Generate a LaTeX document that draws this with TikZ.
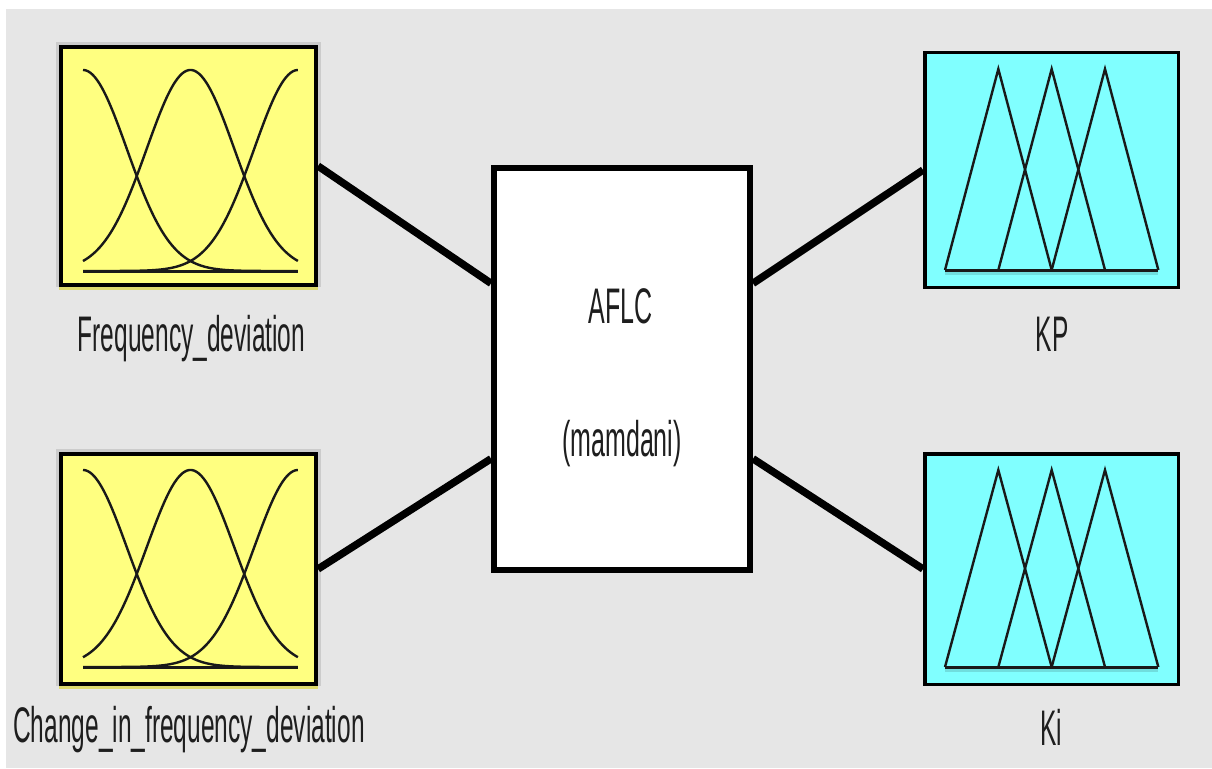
\documentclass[tikz,border=0pt]{standalone}
\usepackage{fontspec}
\setmainfont{Liberation Sans}
\usetikzlibrary{calc}

\definecolor{panel}{HTML}{E6E6E6}
\definecolor{ringgray}{HTML}{CCCCCC}
\definecolor{mfyellow}{HTML}{FFFF80}
\definecolor{mfyelshade}{HTML}{DEDA6E}
\definecolor{mfcyan}{HTML}{80FFFF}
\definecolor{mfcyanshade}{HTML}{70DEDE}
\definecolor{labelgray}{HTML}{1E1E1E}

\pgfdeclarelayer{bottom}
\pgfdeclarelayer{background}
\pgfsetlayers{bottom,background,main}

\tikzset{
  inbox/.style={draw=black, line width=4pt, fill=mfyellow, inner sep=0pt,
                minimum width=255pt},
  outbox/.style={draw=black, line width=3.5pt, fill=mfcyan, inner sep=0pt,
                 minimum width=253.5pt},
  fisbox/.style={draw=black, line width=6pt, fill=white, inner sep=0pt,
                 minimum width=256pt, minimum height=402pt},
  wire/.style={draw=black, line width=7.5pt},
  mfline/.style={draw=black!90, line width=2.4pt},
  axisline/.style={draw=black!90, line width=3pt},
  lbl/.style={text=labelgray, anchor=base, inner sep=0pt,
              font=\fontsize{50}{60}\selectfont},
}

\begin{document}
\begin{tikzpicture}[x=1pt, y=-1pt]
\useasboundingbox (0,0) rectangle (1212,768);

% window background
\begin{pgfonlayer}{bottom}
  \fill[white] (0,0) rectangle (1212,768);
  \fill[panel] (6,9) rectangle (1212,768);
\end{pgfonlayer}

% input, system and output blocks
\node[inbox, minimum height=238pt] (fd) at (188.5,166) {};
\node[inbox, minimum height=230pt] (cfd) at (188.5,569) {};
\node[fisbox] (aflc) at (622,369) {};
\node[outbox, minimum height=234.5pt] (kp) at (1051.5,170) {};
\node[outbox, minimum height=230.5pt] (ki) at (1051.5,569) {};

% soft frames around the input blocks
\begin{pgfonlayer}{background}
  \foreach \b in {fd,cfd}{
    \fill[ringgray] ($(\b.north west)+(-3,-3)$) rectangle ($(\b.south east)+(3,0)$);
    \fill[mfyelshade] ($(\b.south west)+(0,0)$) rectangle ($(\b.south east)+(0,3)$);
  }
\end{pgfonlayer}

% attachment points on the system block
\coordinate (aflcL1) at ($(aflc.north west)!0.29!(aflc.south west)$);
\coordinate (aflcL2) at ($(aflc.north west)!0.72!(aflc.south west)$);
\coordinate (aflcR1) at ($(aflc.north east)!0.29!(aflc.south east)$);
\coordinate (aflcR2) at ($(aflc.north east)!0.72!(aflc.south east)$);

% connectors
\draw[wire] (fd.east) -- (aflcL1);
\draw[wire] (cfd.east) -- (aflcL2);
\draw[wire] (aflcR1) -- (kp.west);
\draw[wire] (aflcR2) -- (ki.west);

% gaussian membership functions of the inputs
\foreach \m in {0,0.5,1}{
  \draw[mfline] plot[domain=0:1, samples=90, smooth]
    ({83+215*\x}, {271-201*exp(-(\x-\m)*(\x-\m)/0.0833)});
  \draw[mfline] plot[domain=0:1, samples=90, smooth]
    ({83+215*\x}, {667-197*exp(-(\x-\m)*(\x-\m)/0.0833)});
}
\draw[axisline] (83,271) -- (298,271);
\draw[axisline] (83,667) -- (298,667);

% triangular membership functions of the outputs
\fill[mfcyanshade] (945,271.5) rectangle (1158,275);
\fill[mfcyanshade] (945,668.5) rectangle (1158,672);
\foreach \i in {0,1,2}{
  \draw[mfline, line join=miter]
    ({945+53.33*\i},270) -- ({998.33+53.33*\i},69) -- ({1051.67+53.33*\i},270);
  \draw[mfline, line join=miter]
    ({945+53.33*\i},667) -- ({998.33+53.33*\i},470) -- ({1051.67+53.33*\i},667);
}
\draw[axisline] (945,270) -- (1158.3,270);
\draw[axisline] (945,667) -- (1158.3,667);

% labels
\node[lbl] (fdlabel)  at (191.5,351) {\scalebox{0.49}[1]{Frequency\_deviation}};
\node[lbl] (cfdlabel) at (189,742)   {\scalebox{0.49}[1]{Change\_in\_frequency\_deviation}};
\node[lbl] (kplabel)  at (1052,351)  {\scalebox{0.49}[1]{KP}};
\node[lbl] (kilabel)  at (1051.5,745) {\scalebox{0.49}[1]{Ki}};
\node[lbl] (aflcname) at (620.5,323) {\scalebox{0.5}[1]{AFLC}};
\node[lbl] (aflctype) at (622,456)   {\scalebox{0.5}[1]{(mamdani)}};
\end{tikzpicture}
\end{document}
